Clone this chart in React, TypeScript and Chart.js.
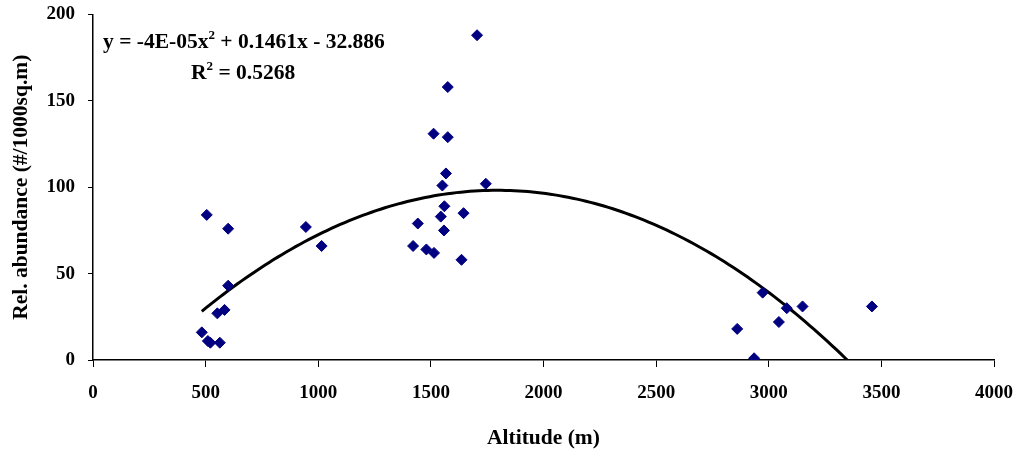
import React, { useEffect, useRef } from "react";
import { Chart, registerables } from "chart.js";

Chart.register(...registerables);

// Observed points: altitude (m) and relative abundance (#/1000 sq.m)
const altitude = [
  483, 510, 521, 563, 552, 584, 600, 505, 600, 945, 1015, 1421, 1442, 1480,
  1514, 1544, 1551, 1558, 1560, 1567, 1512, 1575, 1575, 1636, 1645, 1705,
  1744, 2860, 2935, 2973, 3045, 3080, 3150, 3458,
];
const abundance = [
  16, 11, 10, 10, 27, 29, 43, 84, 76, 77, 66, 66, 79, 64, 62, 83, 101, 75, 89,
  108, 131, 129, 158, 58, 85, 188, 102, 18, 1, 39, 22, 30, 31, 31,
];

// Polynomial trendline coefficients (displayed rounded in the equation)
const TREND_A = -4.07e-5;
const TREND_B = 0.1461;
const TREND_C = -32.886;

const xTickValues = [0, 500, 1000, 1500, 2000, 2500, 3000, 3500, 4000];
const yTickValues = [0, 50, 100, 150, 200];

const xTitle = "Altitude (m)";
const yTitle = "Rel. abundance (#/1000sq.m)";
const eqLine1 = [
  { t: "y = -4E-05x" },
  { t: "2", sup: true },
  { t: " + 0.1461x - 32.886" },
];
const eqLine2 = [{ t: "R" }, { t: "2", sup: true }, { t: " = 0.5268" }];

const FONT = '"Liberation Serif", "Times New Roman", serif';

export default function App() {
  const ref = useRef<HTMLCanvasElement>(null);

  useEffect(() => {
    document.body.style.margin = "0";
    const canvas = ref.current;
    if (!canvas) return;

    const xMin = Math.min(...altitude);
    const xMax = Math.max(...altitude);
    const trend: { x: number; y: number }[] = [];
    const steps = 150;
    for (let i = 0; i <= steps; i++) {
      const x = xMin + ((xMax - xMin) * i) / steps;
      trend.push({ x, y: TREND_A * x * x + TREND_B * x + TREND_C });
    }

    const eqPlugin = {
      id: "equation",
      afterDraw(chart: any) {
        const ctx = chart.ctx as CanvasRenderingContext2D;
        ctx.save();
        ctx.fillStyle = "#000";
        ctx.textBaseline = "alphabetic";
        const drawLine = (parts: any[], x: number, y: number) => {
          let cx = x;
          for (const p of parts) {
            ctx.font = p.sup ? `bold 13px ${FONT}` : `bold 21.5px ${FONT}`;
            ctx.fillText(p.t, cx, p.sup ? y - 9 : y);
            cx += ctx.measureText(p.t).width;
          }
        };
        drawLine(eqLine1, 103, 48);
        drawLine(eqLine2, 191, 79);
        ctx.restore();
      },
    };

    const tickFont = { family: FONT, size: 19, weight: "bold" as const };
    const titleFont = { family: FONT, size: 21.5, weight: "bold" as const, lineHeight: 1 };

    const chart = new Chart(canvas, {
      type: "scatter",
      data: {
        datasets: [
          {
            label: "Observed",
            data: altitude.map((x, i) => ({ x, y: abundance[i] })),
            pointStyle: "rectRot",
            pointRadius: 5.5,
            pointHoverRadius: 5.5,
            backgroundColor: "#000080",
            borderColor: "#000080",
            borderWidth: 1,
            order: 0,
          },
          {
            label: "Trend",
            data: trend,
            showLine: true,
            pointRadius: 0,
            borderColor: "#000",
            borderWidth: 3,
            fill: false,
            order: 1,
          },
        ],
      },
      options: {
        animation: false,
        responsive: false,
        maintainAspectRatio: false,
        layout: { padding: { left: 0, right: 0, top: 0, bottom: 0 } },
        plugins: {
          legend: { display: false },
          tooltip: { enabled: false },
        },
        scales: {
          x: {
            type: "linear",
            min: 0,
            max: 4000,
            afterBuildTicks: (s: any) => {
              s.ticks = xTickValues.map((v) => ({ value: v }));
            },
            afterFit: (s: any) => {
              s.height = 89;
              s.paddingLeft = 0;
              s.paddingRight = 25;
            },
            ticks: {
              color: "#000",
              font: tickFont,
              padding: 15,
              maxRotation: 0,
              callback: (v: any) => String(v),
            },
            grid: {
              display: true,
              drawOnChartArea: false,
              drawTicks: true,
              tickLength: 7,
              tickColor: "#000",
              color: "#000",
            },
            border: { display: true, color: "#000", width: 1.5 },
            title: {
              display: true,
              text: xTitle,
              color: "#000",
              font: titleFont,
              padding: { top: 0, bottom: 0 },
            },
          },
          y: {
            type: "linear",
            min: 0,
            max: 200,
            afterBuildTicks: (s: any) => {
              s.ticks = yTickValues.map((v) => ({ value: v }));
            },
            afterFit: (s: any) => {
              s.width = 93;
              s.paddingTop = 14.5;
              s.paddingBottom = 0;
            },
            ticks: {
              color: "#000",
              font: tickFont,
              padding: 13,
              callback: (v: any) => String(v),
            },
            grid: {
              display: true,
              drawOnChartArea: false,
              drawTicks: true,
              tickLength: 5,
              tickColor: "#000",
              color: "#000",
            },
            border: { display: true, color: "#000", width: 1.5 },
            title: {
              display: true,
              text: yTitle,
              color: "#000",
              font: titleFont,
              padding: { top: 11, bottom: 0 },
            },
          },
        },
      },
      plugins: [eqPlugin],
    });

    return () => chart.destroy();
  }, []);

  return (
    <div style={{ position: "absolute", left: 0, top: 0, width: 1019, height: 449, background: "#fff" }}>
      <canvas ref={ref} width={1019} height={449} style={{ width: 1019, height: 449 }} />
    </div>
  );
}
